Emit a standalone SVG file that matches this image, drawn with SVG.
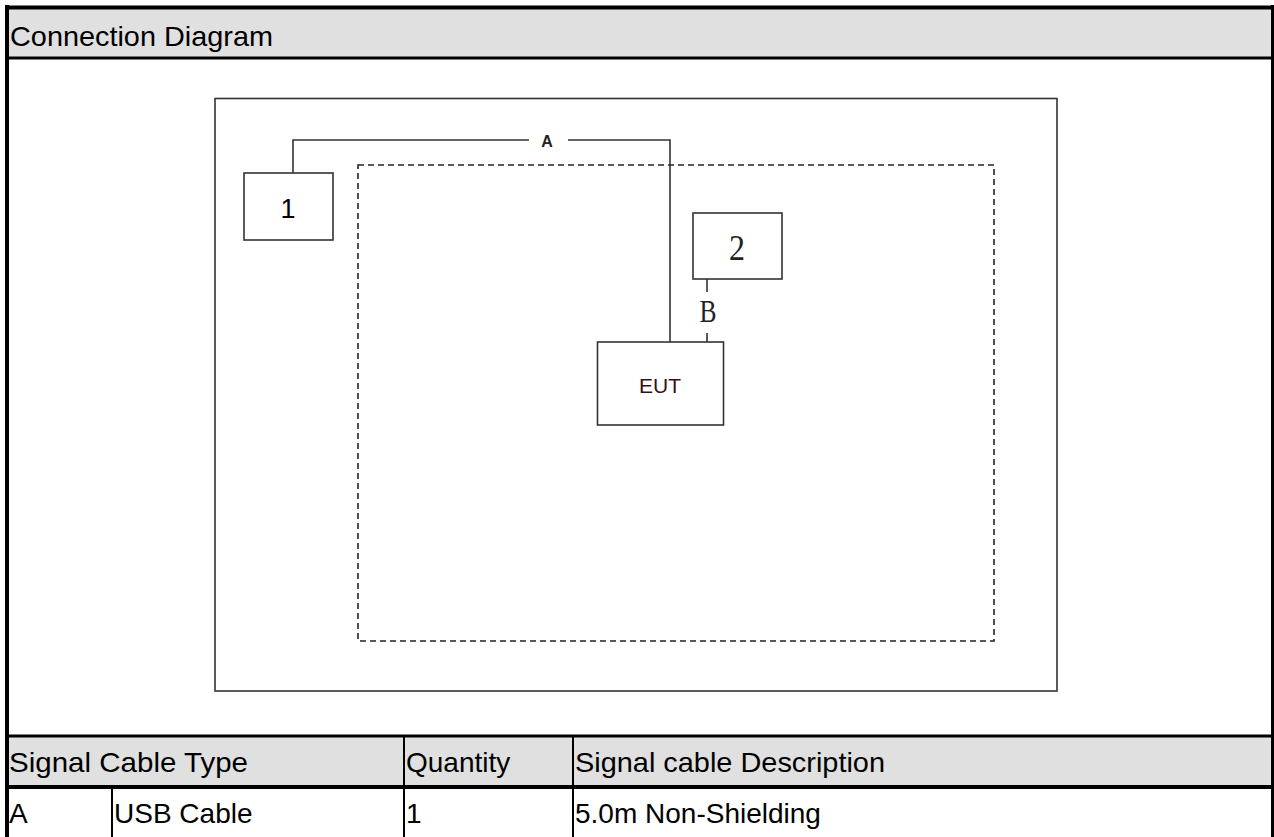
<svg xmlns="http://www.w3.org/2000/svg" width="1274" height="837" viewBox="0 0 1274 837">
<style>
.txt{font-family:"Liberation Sans",Arial,sans-serif;font-size:28px;fill:#000}
.box{fill:#fff;stroke:#333;stroke-width:1.6}
.wire{fill:none;stroke:#333;stroke-width:1.6}
.frame{stroke:#000;fill:none}
.hdr{fill:#e0e0e0}
</style>
<rect x="0" y="0" width="1274" height="837" fill="#fff"/>
<!-- header band -->
<rect class="hdr" x="9" y="9" width="1262" height="48"/>
<text class="txt" x="10" y="46" textLength="263" lengthAdjust="spacingAndGlyphs">Connection Diagram</text>
<!-- table header band -->
<rect class="hdr" x="9" y="737" width="1262" height="48"/>
<!-- frame lines -->
<g id="frame">
<line class="frame" x1="5" y1="7.5" x2="1274" y2="7.5" stroke-width="4"/>
<line class="frame" x1="7" y1="5" x2="7" y2="837" stroke-width="4"/>
<line class="frame" x1="1272.5" y1="5" x2="1272.5" y2="837" stroke-width="3"/>
<line class="frame" x1="5" y1="58" x2="1274" y2="58" stroke-width="3"/>
<line class="frame" x1="5" y1="736" x2="1274" y2="736" stroke-width="3"/>
<line class="frame" x1="5" y1="787" x2="1274" y2="787" stroke-width="4"/>
<line class="frame" x1="404" y1="736" x2="404" y2="837" stroke-width="2"/>
<line class="frame" x1="573" y1="736" x2="573" y2="837" stroke-width="2"/>
<line class="frame" x1="112" y1="787" x2="112" y2="837" stroke-width="2"/>
</g>
<!-- table texts -->
<text class="txt" x="9" y="772" textLength="239" lengthAdjust="spacingAndGlyphs">Signal Cable Type</text>
<text class="txt" x="406" y="772">Quantity</text>
<text class="txt" x="575" y="772" textLength="310" lengthAdjust="spacingAndGlyphs">Signal cable Description</text>
<text class="txt" x="9" y="823">A</text>
<text class="txt" x="114" y="823">USB Cable</text>
<text class="txt" x="406" y="823">1</text>
<text class="txt" x="575" y="823">5.0m Non-Shielding</text>
<!-- diagram area -->
<rect x="215" y="98.5" width="842" height="592.5" fill="none" stroke="#333" stroke-width="1.6"/>
<rect x="358" y="165" width="636" height="476" fill="none" stroke="#222" stroke-width="1.6" stroke-dasharray="6 4"/>
<g id="connectors">
<polyline class="wire" points="293,173 293,140 529,140"/>
<polyline class="wire" points="568,140 670,140 670,342"/>
<line class="wire" x1="707" y1="279" x2="707" y2="292"/>
<line class="wire" x1="707" y1="333" x2="707" y2="342"/>
<text x="547" y="147" text-anchor="middle" style="font-family:'Liberation Sans',Arial,sans-serif;font-size:16px;font-weight:bold;fill:#222">A</text>
<text x="708" y="322" text-anchor="middle" textLength="17" lengthAdjust="spacingAndGlyphs" style="font-family:'Liberation Serif','Times New Roman',serif;font-size:32px;fill:#222">B</text>
</g>
<g id="node-1">
<rect class="box" x="244" y="173" width="89" height="67"/>
<text x="288" y="218" text-anchor="middle" style="font-family:'Liberation Sans',Arial,sans-serif;font-size:27px;fill:#000">1</text>
</g>
<g id="node-2">
<rect class="box" x="693" y="213" width="89" height="66"/>
<text x="737" y="260" text-anchor="middle" textLength="16" lengthAdjust="spacingAndGlyphs" style="font-family:'Liberation Serif','Times New Roman',serif;font-size:36px;fill:#222">2</text>
</g>
<g id="node-eut">
<rect class="box" x="597.5" y="342" width="126" height="83"/>
<text x="660" y="393" text-anchor="middle" style="font-family:'Liberation Sans',Arial,sans-serif;font-size:21px;fill:#331111">EUT</text>
</g>
</svg>
